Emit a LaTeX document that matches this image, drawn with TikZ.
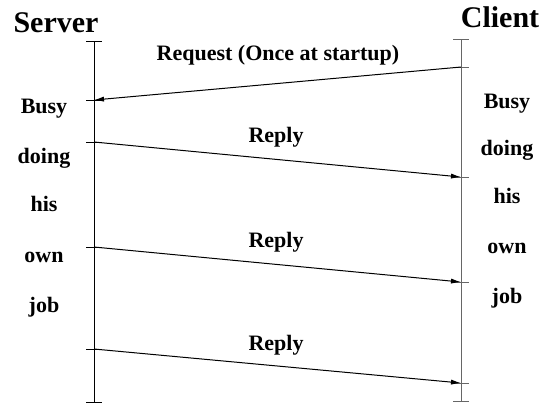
\documentclass[tikz,border=0pt]{standalone}
\usepackage{fontspec}
\setmainfont{Liberation Serif}
\usetikzlibrary{arrows.meta}
\tikzset{
  lbl/.style={font=\bfseries\fontsize{11}{13}\selectfont, anchor=base, inner sep=0pt},
  ttl/.style={font=\bfseries\fontsize{15}{18}\selectfont, anchor=base, inner sep=0pt},
  msg/.style={-{Latex[length=5pt,width=2.6pt]}, line width=0.5pt},
  lifeline/.style={line width=0.5pt},
}
\begin{document}
\begin{tikzpicture}[x=0.5pt, y=-0.5pt]
      \useasboundingbox (0,0) rectangle (544,404);
      % event points on both lifelines
      \foreach \n/\y in {0/41, 1/100, 2/142, 3/247, 4/349, 5/402}
        \coordinate (s\n) at (94,\y);
      \foreach \n/\y in {0/39, 1/67, 2/177, 3/282, 4/383, 5/401}
        \coordinate (c\n) at (461,\y);
      \draw[lifeline] (s0) -- (s5);
      \draw[lifeline, black!60] (c0) -- (c5);
      \foreach \n in {0,...,5} {
        \draw[lifeline] ([xshift=-4pt]s\n) -- ([xshift=4pt]s\n);
        \draw[lifeline, black!60] ([xshift=-4pt]c\n) -- ([xshift=4pt]c\n);
      }
      \node[ttl] (server) at (56,32) {Server};
      \node[ttl] (client) at (500,27) {Client};
      % messages
      \draw[msg] (c1) -- (s1);
      \draw[msg] (s2) -- (c2);
      \draw[msg] (s3) -- (c3);
      \draw[msg] (s4) -- (c4);
      \node[lbl] (req) at (278,60) {Request (Once at startup)};
      \node[lbl] (rep1) at (276,142) {Reply};
      \node[lbl] (rep2) at (276,247) {Reply};
      \node[lbl] (rep3) at (276,350) {Reply};
      % what each side does meanwhile
      \foreach \w/\y [count=\i] in {Busy/113, doing/163, his/211, own/262, job/312}
        \node[lbl] (sbusy\i) at (44,\y) {\w};
      \foreach \w/\y [count=\i] in {Busy/108, doing/155, his/203, own/253, job/303}
        \node[lbl] (cbusy\i) at (507,\y) {\w};
    \end{tikzpicture}
\end{document}
